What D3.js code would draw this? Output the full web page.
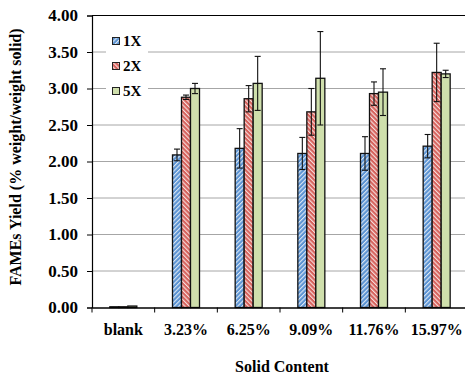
<!DOCTYPE html>
<html>
<head>
<meta charset="utf-8">
<script src="https://cdn.jsdelivr.net/npm/d3@7"></script>
<style>
  body { margin: 0; background: #fff; }
  text { font-family: "Liberation Serif", "Times New Roman", serif; font-weight: bold; fill: #000; }
</style>
</head>
<body>
<div id="chart"></div>
<script>
// values
const categories = ["blank", "3.23%", "6.25%", "9.09%", "11.76%", "15.97%"];
const seriesNames = ["1X", "2X", "5X"];
const yield1X = [0.01, 2.09, 2.18, 2.11, 2.11, 2.21];
const err1X   = [0,    0.08, 0.27, 0.22, 0.23, 0.16];
const yield2X = [0.01, 2.88, 2.86, 2.68, 2.93, 3.22];
const err2X   = [0,    0.03, 0.18, 0.32, 0.16, 0.40];
const yield5X = [0.02, 3.00, 3.07, 3.14, 2.95, 3.20];
const err5X   = [0,    0.07, 0.37, 0.64, 0.32, 0.05];
const yTicks  = [0, 0.5, 1, 1.5, 2, 2.5, 3, 3.5, 4];

const W = 465, H = 375;
const plotLeft = 92, plotRight = 468, plotTop = 15.5, plotBottom = 307.5;

const svg = d3.select("#chart").append("svg")
    .attr("width", W)
    .attr("height", H);

// fills: blue and red hatched, green plain
const defs = svg.append("defs");
function hatch(id, color, stripe, angle) {
    const p = defs.append("pattern")
        .attr("id", id)
        .attr("patternUnits", "userSpaceOnUse")
        .attr("width", 3.2)
        .attr("height", 3.2)
        .attr("patternTransform", `rotate(${angle})`);
    p.append("rect").attr("width", 3.2).attr("height", 3.2).attr("fill", color);
    p.append("rect").attr("width", 1.1).attr("height", 3.2).attr("fill", stripe);
}
hatch("hatch-blue", "#5b93d3", "#dde8f4", 45);
hatch("hatch-red", "#d6625c", "#f6dedd", -45);

const fills = ["url(#hatch-blue)", "url(#hatch-red)", "#cfdfac"];
const values = [yield1X, yield2X, yield5X];
const errors = [err1X, err2X, err5X];

const x0 = d3.scaleBand().domain(categories).range([plotLeft, plotRight]).padding(0);
const x1 = d3.scaleBand().domain(seriesNames).range([0, x0.bandwidth()]).paddingInner(0).paddingOuter(1.98);
const y = d3.scaleLinear().domain([0, 4]).range([plotBottom, plotTop]);

// gridlines
svg.append("g")
    .selectAll("line")
    .data(yTicks.filter(t => t > 0 && t < 4))
    .enter().append("line")
    .attr("x1", plotLeft).attr("x2", plotRight)
    .attr("y1", d => y(d)).attr("y2", d => y(d))
    .attr("stroke", "#a6a6a6")
    .attr("stroke-width", 1);

// top border
svg.append("line")
    .attr("x1", plotLeft).attr("x2", plotRight)
    .attr("y1", plotTop).attr("y2", plotTop)
    .attr("stroke", "#000").attr("stroke-width", 1.2);

// bars
const rows = [];
categories.forEach((c, i) => {
    seriesNames.forEach((s, j) => {
        rows.push({ cat: c, ser: s, v: values[j][i], e: errors[j][i], j: j });
    });
});

const bars = svg.append("g");
bars.selectAll("rect")
    .data(rows)
    .enter().append("rect")
    .attr("x", d => x0(d.cat) + x1(d.ser))
    .attr("y", d => y(d.v))
    .attr("width", x1.bandwidth())
    .attr("height", d => y(0) - y(d.v))
    .attr("fill", d => fills[d.j])
    .attr("stroke", "#111")
    .attr("stroke-width", 1.3);

// error bars
const eb = svg.append("g").attr("stroke", "#111").attr("stroke-width", 1.1);
rows.filter(d => d.e > 0).forEach(d => {
    const cx = x0(d.cat) + x1(d.ser) + x1.bandwidth() / 2;
    eb.append("line").attr("x1", cx).attr("x2", cx).attr("y1", y(d.v + d.e)).attr("y2", y(d.v - d.e));
    eb.append("line").attr("x1", cx - 3).attr("x2", cx + 3).attr("y1", y(d.v + d.e)).attr("y2", y(d.v + d.e));
    eb.append("line").attr("x1", cx - 3).attr("x2", cx + 3).attr("y1", y(d.v - d.e)).attr("y2", y(d.v - d.e));
});

// y axis
const yAxis = svg.append("g")
    .attr("transform", `translate(${plotLeft},0)`)
    .call(d3.axisLeft(y).tickValues(yTicks).tickFormat(d3.format(".2f")).tickSize(5).tickPadding(9));
yAxis.select(".domain").attr("stroke", "#000").attr("stroke-width", 1.2);
yAxis.selectAll(".tick line").attr("stroke", "#000");
yAxis.selectAll(".tick text")
    .attr("font-size", 17)
    .attr("font-family", null)
    .attr("fill", "#000");

// x axis
const xAxis = svg.append("g")
    .attr("transform", `translate(0,${plotBottom})`)
    .call(d3.axisBottom(x0).tickSize(0).tickPadding(16));
xAxis.select(".domain").attr("stroke", "#000").attr("stroke-width", 1.5);
xAxis.selectAll(".tick text")
    .attr("font-size", 16)
    .attr("font-family", null)
    .attr("fill", "#000");
xAxis.selectAll("line.sep")
    .data(categories.map(c => x0(c)).concat([plotRight]))
    .enter().append("line")
    .attr("class", "sep")
    .attr("x1", d => d).attr("x2", d => d)
    .attr("y1", 0).attr("y2", 5)
    .attr("stroke", "#000");

// axis titles
svg.append("text")
    .attr("x", 282)
    .attr("y", 372)
    .attr("text-anchor", "middle")
    .attr("font-size", 16)
    .text("Solid Content");

svg.append("text")
    .attr("transform", "translate(21,157) rotate(-90)")
    .attr("text-anchor", "middle")
    .attr("font-size", 16)
    .text("FAMEs Yield (% weight/weight solid)");

// legend
const lg = svg.append("g");
lg.append("rect")
    .attr("x", 106).attr("y", 29)
    .attr("width", 42).attr("height", 72)
    .attr("fill", "#fff");
seriesNames.forEach((s, j) => {
    const yy = 37.5 + j * 25;
    lg.append("rect")
        .attr("x", 112.5).attr("y", yy)
        .attr("width", 7).attr("height", 7)
        .attr("fill", fills[j])
        .attr("stroke", "#222")
        .attr("stroke-width", 1);
    lg.append("text")
        .attr("x", 123)
        .attr("y", yy + 8)
        .attr("font-size", 15)
        .text(s);
});
</script>
</body>
</html>
